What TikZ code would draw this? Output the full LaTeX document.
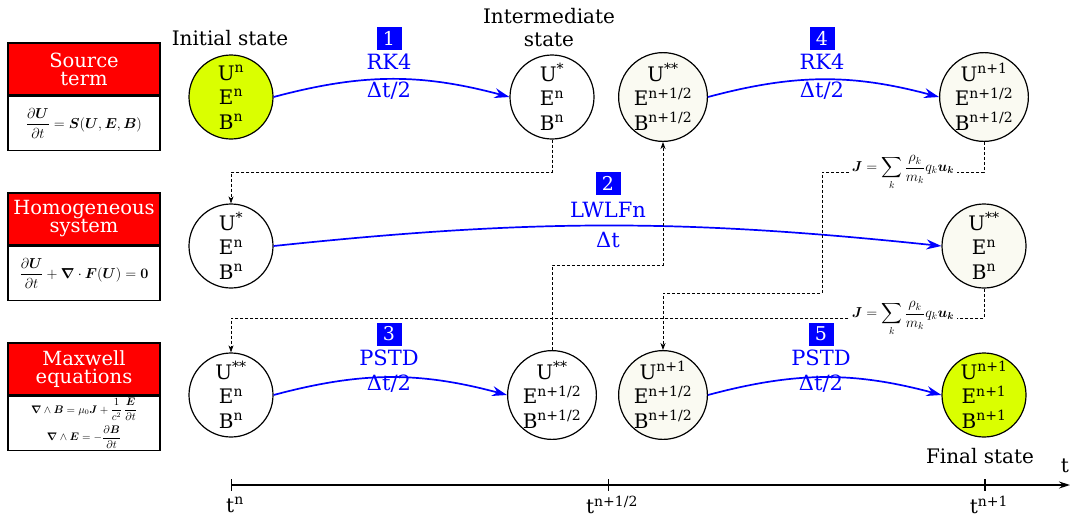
\documentclass[tikz,border=0pt]{standalone}
\usepackage{amsmath,bm}
\usepackage{fontspec}
\setmainfont{DejaVu Serif}
\usetikzlibrary{arrows.meta,positioning,calc}
\definecolor{ylw}{RGB}{218,255,0}
\definecolor{ivory}{RGB}{250,250,242}
\newcommand\spx[1]{\textsuperscript{#1}}
\begin{document}
\begin{tikzpicture}[x=1pt,y=1pt,
  state/.style={circle,draw,line width=1.2pt,minimum size=84pt,inner sep=0pt,align=center,font=\fontsize{20}{24.5}\selectfont},
  lbl/.style={font=\fontsize{20}{23}\selectfont,align=center},
  blab/.style={text=blue,font=\fontsize{21}{22}\selectfont},
  num/.style={fill=blue,text=white,minimum width=25pt,minimum height=23pt,inner sep=0pt,font=\fontsize{19}{20}\selectfont},
  barrow/.style={blue,line width=1.7pt,-{Stealth[length=15pt,width=10pt,inset=5pt]}},
  darrow/.style={dash pattern=on 3pt off 2pt,line width=0.8pt,-{Stealth[length=7pt,width=5pt,inset=2pt]}},
  redhead/.style={fill=red,draw=black,line width=1.2pt,text=white,minimum width=152pt,minimum height=52pt,align=center,inner sep=0pt,font=\fontsize{19.5}{21}\selectfont},
  eqbox/.style={draw,line width=1.2pt,minimum width=152pt,minimum height=54pt,align=center,inner sep=0pt},
  jlab/.style={fill=white,inner sep=3pt,font=\fontsize{14.5}{16}\selectfont}
]
\useasboundingbox (0,0) rectangle (1073,-523);

% left boxes
\node[redhead] (s1) at (84,-69) {Source\\[-3pt]term};
\node[eqbox,below=0pt of s1] (e1) {\fontsize{14}{16}\selectfont$\dfrac{\partial\bm U}{\partial t}=\bm S(\bm U,\bm E,\bm B)$};
\node[redhead] (s2) at (84,-219) {Homogeneous\\[-3pt]system};
\node[eqbox,below=0pt of s2] (e2) {\fontsize{14}{16}\selectfont$\dfrac{\partial\bm U}{\partial t}+\bm\nabla\cdot\bm F(\bm U)=\bm 0$};
\node[redhead] (s3) at (84,-369) {Maxwell\\[-3pt]equations};
\node[eqbox,below=0pt of s3] (e3) {\fontsize{10.5}{12}\selectfont$\bm\nabla\wedge\bm B=\mu_0\bm J+\dfrac{1}{c^2}\,\dfrac{\bm E}{\partial t}$\\[4pt]\fontsize{10.5}{12}\selectfont$\bm\nabla\wedge\bm E=-\dfrac{\partial\bm B}{\partial t}$};

% states
\node[state,fill=ylw] (c11) at (231,-97) {U\spx{n}\\E\spx{n}\\B\spx{n}};
\node[state] (c12) at (552,-97) {U\spx{*}\\E\spx{n}\\B\spx{n}};
\node[state,fill=ivory] (c13) at (663,-97) {U\spx{**}\\E\spx{n+1/2}\\B\spx{n+1/2}};
\node[state,fill=ivory] (c14) at (984,-97) {U\spx{n+1}\\E\spx{n+1/2}\\B\spx{n+1/2}};
\node[state] (c21) at (231,-246) {U\spx{*}\\E\spx{n}\\B\spx{n}};
\node[state,fill=ivory] (c24) at (984,-246) {U\spx{**}\\E\spx{n}\\B\spx{n}};
\node[state] (c31) at (231,-395) {U\spx{**}\\E\spx{n}\\B\spx{n}};
\node[state] (c32) at (552,-395) {U\spx{**}\\E\spx{n+1/2}\\B\spx{n+1/2}};
\node[state,fill=ivory] (c33) at (663,-395) {U\spx{n+1}\\E\spx{n+1/2}\\B\spx{n+1/2}};
\node[state,fill=ylw] (c34) at (984,-395) {U\spx{n+1}\\E\spx{n+1}\\B\spx{n+1}};

% titles
\node[lbl] (ini) at (230,-38) {Initial state};
\node[lbl] (mid) at (549,-28) {Intermediate\\state};
\node[lbl] (fin) at (980,-456) {Final state};

% blue arrows and labels
\draw[barrow] (c11.east) to[bend left=15] (c12.west);
\draw[barrow] (c13.east) to[bend left=15] (c14.west);
\draw[barrow] (c21.east) to[bend left=6] (c24.west);
\draw[barrow] (c31.east) to[bend left=15] (c32.west);
\draw[barrow] (c33.east) to[bend left=15] (c34.west);

\node[num] (n1) at (389,-38) {1};
\node[blab] (r1) at (389,-62) {RK4};
\node[blab] (d1) at (389,-91) {Δt/2};
\node[num] (n4) at (822,-38) {4};
\node[blab] (r4) at (822,-62) {RK4};
\node[blab] (d4) at (822,-91) {Δt/2};
\node[num] (n2) at (608,-183) {2};
\node[blab] (r2) at (608,-210) {LWLFn};
\node[blab] (d2) at (608,-240) {Δt};
\node[num] (n3) at (389,-334) {3};
\node[blab] (r3) at (389,-358) {PSTD};
\node[blab] (d3) at (389,-384) {Δt/2};
\node[num] (n5) at (821,-334) {5};
\node[blab] (r5) at (821,-358) {PSTD};
\node[blab] (d5) at (821,-384) {Δt/2};

% dashed connectors
\coordinate (h1) at (0,-172);
\coordinate (h2) at (0,-265);
\coordinate (h3) at (0,-293);
\coordinate (h4) at (0,-318);
\coordinate (v1) at (822,0);
\draw[darrow] (c12.south) -- (c12.south |- h1) -| (c21.north);
\draw[darrow] (c32.north) -- (c32.north |- h2) -| (c13.south);
\draw[darrow] (c14.south) -- (c14.south |- h1) -- (v1 |- h1) -- (v1 |- h3) -| (c33.north);
\draw[darrow] (c24.south) -- (c24.south |- h4) -| (c31.north);
\node[jlab] (j1) at (903,-173) {$\bm J=\displaystyle\sum_k\frac{\rho_k}{m_k}q_k\bm{u_k}$};
\node[jlab] (j2) at (903,-319) {$\bm J=\displaystyle\sum_k\frac{\rho_k}{m_k}q_k\bm{u_k}$};

% time axis
\coordinate (t0) at (231,-485);
\coordinate (t1) at (608,-485);
\coordinate (t2) at (985,-485);
\coordinate (tend) at (1070,-485);
\draw[line width=1.4pt,-{Stealth[length=11pt,width=7pt]}] (t0) -- (tend);
\draw[line width=1pt] ($(t0)+(0,6)$) -- ($(t0)+(0,-6)$);
\draw[line width=0.8pt] ($(t1)+(0,6)$) -- ($(t1)+(0,-6)$);
\draw[line width=1.8pt] ($(t2)+(0,6)$) -- ($(t2)+(0,-6)$);
\node[lbl] (l0) at (235,-505) {t\spx{n}};
\node[lbl] (l1) at (612,-505) {t\spx{n+1/2}};
\node[lbl] (l2) at (989,-505) {t\spx{n+1}};
\node[lbl] (lt) at (1065,-466) {t};
\end{tikzpicture}
\end{document}
